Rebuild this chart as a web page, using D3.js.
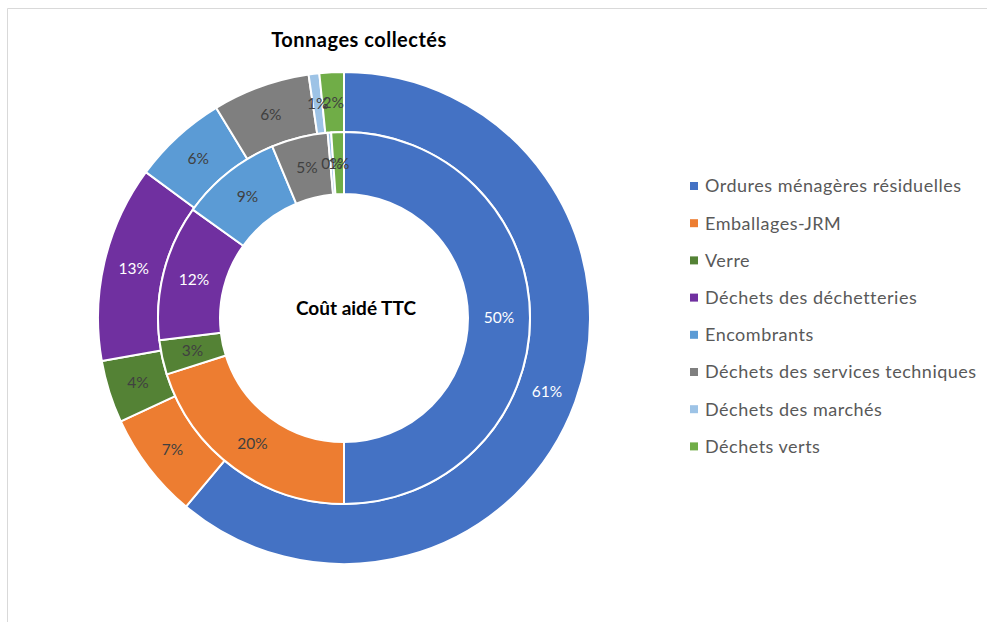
<!DOCTYPE html>
<html>
<head>
<meta charset="utf-8">
<script src="https://cdn.jsdelivr.net/npm/d3@7"></script>
<style>
  body { margin: 0; background: #fff; }
  svg text { font-family: Lato, "Open Sans", sans-serif; }
</style>
</head>
<body>
<script>
"use strict";

// categories + colours (Excel office palette)
var categories = ["Ordures ménagères résiduelles", "Emballages-JRM", "Verre",
  "Déchets des déchetteries", "Encombrants", "Déchets des services techniques",
  "Déchets des marchés", "Déchets verts"];
var colours = ["#4472C4", "#ED7D31", "#548235", "#7030A0", "#5B9BD5", "#7F7F7F", "#9DC3E6", "#70AD47"];

// outer ring : tonnages collectés (%)
var tonnages = [61.1, 7.0, 4.1, 12.9, 6.2, 6.4, 0.7, 1.6];
// inner ring : coût aidé TTC (%)
var cout = [50.0, 20.1, 3.0, 11.8, 8.8, 4.9, 0.3, 1.1];

var titleOuter = "Tonnages collectés";
var titleInner = "Coût aidé TTC";

var width = 987, height = 622;
var cx = 344, cy = 318;
var rOuter = 246, rMid = 186, rHole = 124;

var svg = d3.select("body").append("svg")
  .attr("width", width)
  .attr("height", height);

// chart frame
svg.append("path")
  .attr("d", "M7.5," + height + "V8.5H" + width)
  .attr("fill", "none")
  .attr("stroke", "#d9d9d9")
  .attr("stroke-width", 1);

var pie = d3.pie().sort(null).value(d => d);
var fmt = d3.format(".0%");

// white labels on dark slices
var lightLabel = [true, false, false, true, false, false, false, false];

function ring(values, r0, r1) {
  var total = d3.sum(values);
  var arc = d3.arc().innerRadius(r0).outerRadius(r1);
  var g = svg.append("g").attr("transform", "translate(" + cx + "," + cy + ")");
  var arcs = pie(values);

  g.selectAll("path")
    .data(arcs)
    .enter().append("path")
    .attr("d", arc)
    .attr("fill", (d, i) => colours[i])
    .attr("stroke", "#fff")
    .attr("stroke-width", 2)
    .attr("stroke-linejoin", "round");

  g.selectAll("text")
    .data(arcs)
    .enter().append("text")
    .attr("transform", d => "translate(" + arc.centroid(d) + ")")
    .attr("text-anchor", "middle")
    .attr("dy", "0.35em")
    .attr("font-size", 15.5)
    .attr("fill", (d, i) => lightLabel[i] ? "#ffffff" : "#404040")
    .text(d => fmt(d.value / total));
}

ring(tonnages, rMid, rOuter);
ring(cout, rHole, rMid);

// titles
svg.append("text")
  .attr("x", 359).attr("y", 40)
  .attr("dy", "0.35em")
  .attr("text-anchor", "middle")
  .attr("font-size", 20)
  .attr("letter-spacing", 0.5)
  .attr("font-weight", "bold")
  .attr("fill", "#000")
  .text(titleOuter);

svg.append("text")
  .attr("x", 356).attr("y", 308)
  .attr("dy", "0.35em")
  .attr("text-anchor", "middle")
  .attr("font-size", 19)
  .attr("font-weight", "bold")
  .attr("fill", "#000")
  .text(titleInner);

// legend
var legend = svg.append("g")
  .selectAll("g")
  .data(categories)
  .enter().append("g")
  .attr("transform", (d, i) => "translate(690," + (186 + i * 37.2) + ")");

legend.append("rect")
  .attr("x", 0).attr("y", -4)
  .attr("width", 8).attr("height", 8)
  .attr("fill", (d, i) => colours[i]);

legend.append("text")
  .attr("x", 15)
  .attr("dy", "0.35em")
  .attr("font-size", 18)
  .attr("letter-spacing", 0.5)
  .attr("fill", "#595959")
  .text(d => d);
</script>
</body>
</html>
